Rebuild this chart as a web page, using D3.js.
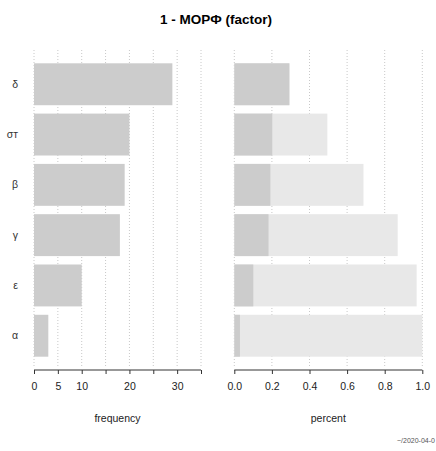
<!DOCTYPE html>
<html><head><meta charset="utf-8">
<script src="https://cdn.jsdelivr.net/npm/d3@7"></script>
<style>body{margin:0;background:#fff}svg{display:block}text{font-family:"Liberation Sans",Arial,sans-serif}</style>
</head><body>
<svg id="c" width="436" height="451"></svg>
<script>
const categories = ["δ", "σт", "β", "γ", "ε", "α"];
const frequency = [29, 20, 19, 18, 10, 3];
const percent = [0.293, 0.202, 0.192, 0.182, 0.101, 0.030];
const cumPercent = [0.293, 0.495, 0.687, 0.869, 0.970, 1.0];
const freqTicks = [0, 5, 10, 15, 20, 25, 30, 35];
const freqTickLabels = ["0", "5", "10", "", "20", "", "30", ""];
const pctTicks = [0, 0.2, 0.4, 0.6, 0.8, 1.0];
const title = "1 - МОРФ (factor)";
const footer = "~/2020-04-0";

const svg = d3.select("#c");
const dark = "#cccccc", light = "#e8e8e8", gridCol = "#c8c8c8";
const gridTop = 50, gridBottom = 366, axisY = 370;

const y = d3.scaleBand().domain(categories).range([63.3, 356.7]).paddingInner(0.2/1.2).paddingOuter(0);
const xF = d3.scaleLinear().domain([0, 35]).range([34, 201]);
const xP = d3.scaleLinear().domain([0, 1]).range([234.3, 422.3]);

svg.append("text").attr("x", 216).attr("y", 24).attr("text-anchor", "middle")
  .attr("font-size", 13.5).attr("font-weight", "bold").attr("fill", "#000").text(title);

function grid(scale, ticks) {
  svg.append("g").selectAll("line").data(ticks).join("line")
    .attr("x1", d => scale(d)).attr("x2", d => scale(d))
    .attr("y1", gridTop).attr("y2", gridBottom)
    .attr("stroke", gridCol).attr("stroke-width", 1).attr("stroke-dasharray", "1,2");
}
grid(xF, freqTicks);
grid(xP, pctTicks);

svg.append("g").selectAll("rect").data(categories).join("rect")
  .attr("x", xF(0)).attr("y", d => y(d))
  .attr("width", (d, i) => xF(frequency[i]) - xF(0)).attr("height", y.bandwidth())
  .attr("fill", dark);

svg.append("g").selectAll("rect").data(categories).join("rect")
  .attr("x", xP(0)).attr("y", d => y(d))
  .attr("width", (d, i) => xP(cumPercent[i]) - xP(0)).attr("height", y.bandwidth())
  .attr("fill", light);
svg.append("g").selectAll("rect").data(categories).join("rect")
  .attr("x", xP(0)).attr("y", d => y(d))
  .attr("width", (d, i) => xP(percent[i]) - xP(0)).attr("height", y.bandwidth())
  .attr("fill", dark);

svg.append("g").selectAll("text").data(categories).join("text")
  .attr("x", 18).attr("y", d => y(d) + y.bandwidth()/2 + 3.5)
  .attr("text-anchor", "end").attr("font-size", 10.5).attr("fill", "#333").text(d => d);

const axF = d3.axisBottom(xF).tickValues(freqTicks).tickFormat((d, i) => freqTickLabels[i]).tickSize(4).tickPadding(9);
const axP = d3.axisBottom(xP).tickValues(pctTicks).tickFormat(d3.format(".1f")).tickSize(4).tickPadding(9);
[axF, axP].forEach(ax => {
  const g = svg.append("g").attr("transform", `translate(0,${axisY})`).call(ax);
  g.select(".domain").attr("d", null);
  g.selectAll(".tick line").attr("stroke", "#333");
  g.selectAll(".tick text").attr("font-size", 10.5).attr("fill", "#222").attr("font-family", "Liberation Sans, Arial, sans-serif");
});
svg.append("line").attr("x1", xF(0)).attr("x2", xF(35)).attr("y1", axisY).attr("y2", axisY).attr("stroke", "#333");
svg.append("line").attr("x1", xP(0)).attr("x2", xP(1)).attr("y1", axisY).attr("y2", axisY).attr("stroke", "#333");

svg.append("text").attr("x", (xF(0)+xF(35))/2).attr("y", 422).attr("text-anchor", "middle")
  .attr("font-size", 10.5).attr("fill", "#222").text("frequency");
svg.append("text").attr("x", (xP(0)+xP(1))/2).attr("y", 422).attr("text-anchor", "middle")
  .attr("font-size", 10.5).attr("fill", "#222").text("percent");

svg.append("text").attr("x", 397).attr("y", 443).attr("font-size", 7).attr("fill", "#555").text(footer);
</script>
</body></html>
